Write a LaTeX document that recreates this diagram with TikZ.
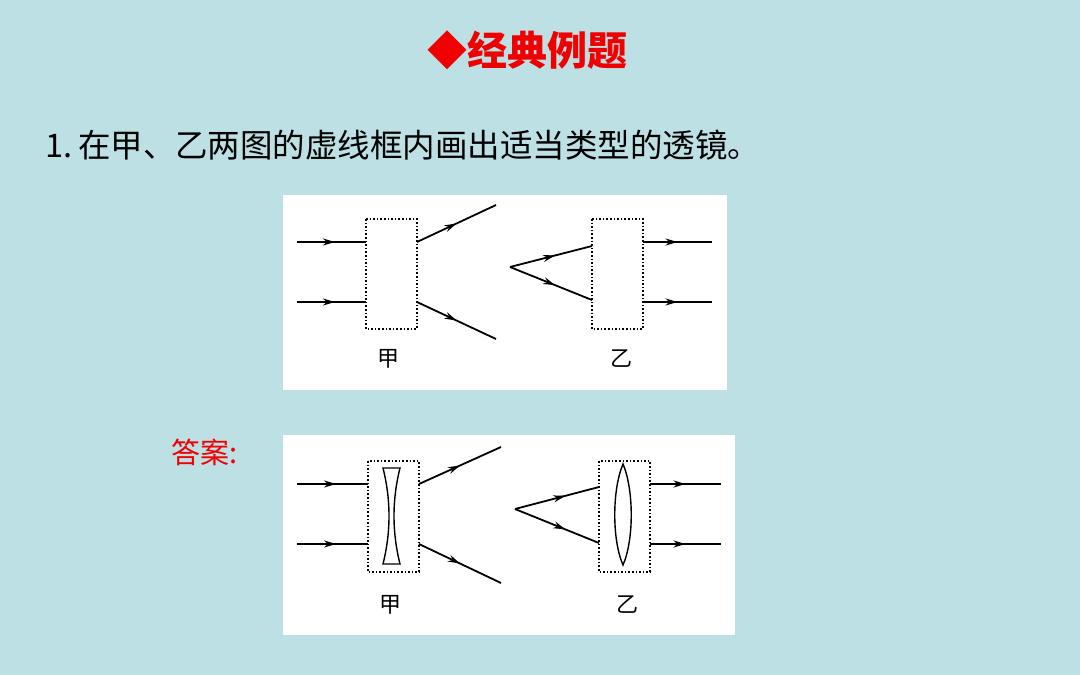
\documentclass[tikz,border=0pt]{standalone}
\usepackage{fontspec}
\newfontfamily\cjk{Noto Sans CJK SC}
\usetikzlibrary{decorations.markings,arrows.meta}
\definecolor{bg}{HTML}{BCE0E3}
\definecolor{tred}{HTML}{F00000}
\tikzset{
 ray/.style={line width=1.8pt,postaction={decorate},decoration={markings,mark=at position #1 with {\arrow{Stealth[length=12pt,width=7pt]}}}},
 ray/.default=0.5,
 dbox/.style={draw,line width=1.6pt,dotted},
 lens/.style={draw,line width=1.4pt},
 lbl/.style={font=\cjk\fontsize{22}{22}\selectfont,inner sep=0pt}
}
\begin{document}
\begin{tikzpicture}[x=1pt,y=-1pt]
\fill[bg] (0,0) rectangle (1080,675);
\useasboundingbox (0,0) rectangle (1080,675);
\node[text=tred,font=\cjk\fontsize{40}{40}\selectfont\bfseries] (title) at (527,50) {◆经典例题};
\node[anchor=west,font=\cjk\fontsize{32.5}{32}\selectfont] (q) at (42,145) {1.\,在甲、乙两图的虚线框内画出适当类型的透镜。};
\node[anchor=west,text=tred,font=\cjk\fontsize{29}{29}\selectfont] (ans) at (168,452) {答案:};
% figure 1
\fill[white] (283,195) rectangle (727,390);
\draw[dbox] (366,219) rectangle (417,329);
\coordinate (a1) at (297,242); \coordinate (a2) at (366,242);
\coordinate (b1) at (297,302); \coordinate (b2) at (366,302);
\coordinate (c1) at (417,242); \coordinate (c2) at (496,205);
\coordinate (d1) at (417,302); \coordinate (d2) at (496,339);
\draw[ray=0.55] (a1) -- (a2); \draw[ray=0.55] (b1) -- (b2);
\draw[ray] (c1) -- (c2); \draw[ray] (d1) -- (d2);
\draw[dbox] (592,219) rectangle (643,329);
\coordinate (v) at (510,267);
\coordinate (e1) at (592,246); \coordinate (e2) at (592,300);
\draw[ray=0.55] (v) -- (e1); \draw[ray=0.55] (v) -- (e2);
\coordinate (f1) at (643,242); \coordinate (f2) at (712,242);
\coordinate (g1) at (643,302); \coordinate (g2) at (712,302);
\draw[ray] (f1) -- (f2); \draw[ray] (g1) -- (g2);
\node[lbl] (j1) at (388,359) {甲};
\node[lbl] (y1) at (621,359) {乙};
% figure 2
\fill[white] (283,435) rectangle (735,635);
\draw[dbox] (368,461) rectangle (419,572);
\coordinate (A1) at (297,484); \coordinate (A2) at (368,484);
\coordinate (B1) at (297,544); \coordinate (B2) at (368,544);
\coordinate (C1) at (419,484); \coordinate (C2) at (501,447);
\coordinate (D1) at (419,544); \coordinate (D2) at (501,583);
\draw[ray=0.55] (A1) -- (A2); \draw[ray=0.55] (B1) -- (B2);
\draw[ray] (C1) -- (C2); \draw[ray] (D1) -- (D2);
\draw[lens] (383,468) -- (400,468) .. controls (392,500) and (392,532) .. (400,564) -- (383,564) .. controls (391,532) and (391,500) .. (383,468) -- cycle;
\draw[dbox] (599,461) rectangle (650,572);
\coordinate (V) at (515,509);
\coordinate (E1) at (599,487); \coordinate (E2) at (599,543);
\draw[ray=0.6] (V) -- (E1); \draw[ray=0.6] (V) -- (E2);
\coordinate (F1) at (650,484); \coordinate (F2) at (721,484);
\coordinate (G1) at (650,544); \coordinate (G2) at (721,544);
\draw[ray] (F1) -- (F2); \draw[ray] (G1) -- (G2);
\draw[lens] (623,464) .. controls (612,490) and (612,540) .. (623,565) .. controls (634,540) and (634,490) .. (623,464) -- cycle;
\node[lbl] (j2) at (390,605) {甲};
\node[lbl] (y2) at (627,605) {乙};
\end{tikzpicture}
\end{document}
